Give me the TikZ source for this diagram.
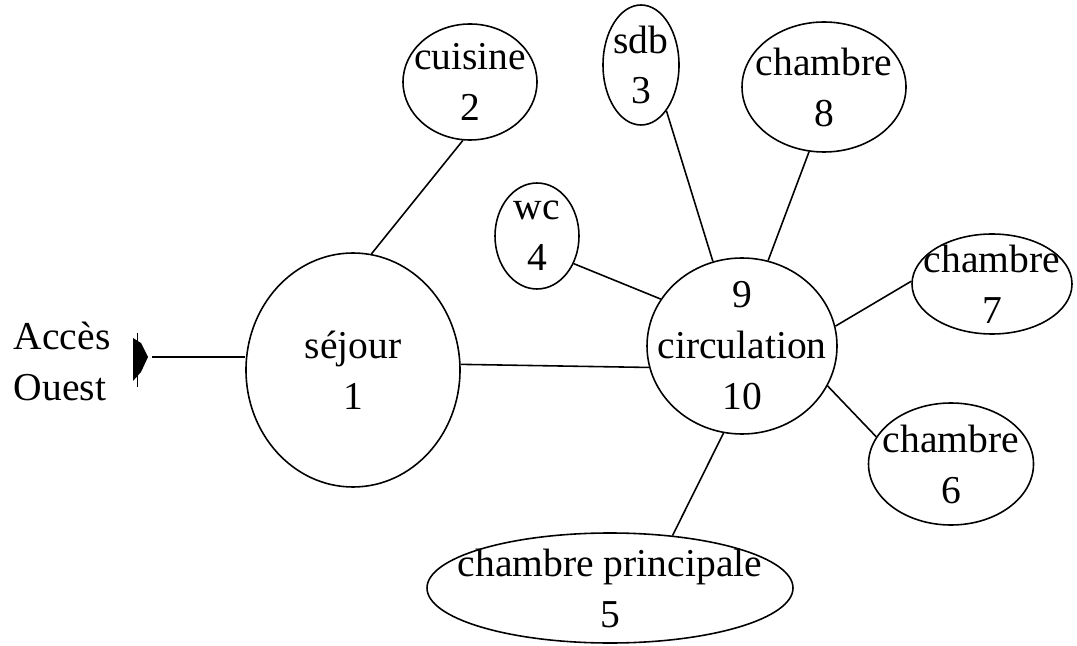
\documentclass[tikz,border=0pt]{standalone}
\usepackage{fontspec}
\setmainfont{Liberation Serif}
\usetikzlibrary{shapes.geometric}

\begin{document}
\begin{tikzpicture}[line width=0.9pt,
    piece/.style={draw, ellipse, inner sep=0pt},
    txt/.style={align=center, inner sep=0pt, font=\fontsize{22.5}{29}\selectfont}]
    \useasboundingbox (0,0) rectangle (21.54,12.9);
    \node[piece, minimum width=4.28cm, minimum height=4.68cm, label={[txt]center:séjour\\1}] (s) at (7.06, 5.50) {};
    \node[piece, minimum width=2.68cm, minimum height=2.32cm, label={[txt]center:cuisine\\2}] (c) at (9.40, 11.26) {};
    \node[piece, minimum width=1.52cm, minimum height=2.40cm, label={[txt]center:sdb\\3}] (b) at (12.82, 11.60) {};
    \node[piece, minimum width=1.68cm, minimum height=2.12cm, label={[txt]center:wc\\4}] (w) at (10.74, 8.18) {};
    \node[piece, minimum width=7.32cm, minimum height=2.20cm, label={[txt]center:chambre principale\\5}] (p) at (12.20, 1.14) {};
    \node[piece, minimum width=3.30cm, minimum height=2.44cm, label={[txt]center:chambre\\6}] (ch6) at (19.02, 3.62) {};
    \node[piece, minimum width=3.20cm, minimum height=2.00cm, label={[txt]center:chambre\\7}] (ch7) at (19.84, 7.22) {};
    \node[piece, minimum width=3.28cm, minimum height=2.60cm, label={[txt]center:chambre\\8}] (ch8) at (16.48, 11.16) {};
    \node[piece, minimum width=3.80cm, minimum height=3.52cm, label={[txt]center:9\\circulation\\10}] (r) at (14.84, 5.98) {};
    \node[txt, align=left, anchor=west] (acc) at (0.26, 5.68) {Accès\\Ouest};
    % entree
    \coordinate (e) at (3.04, 5.76);
    \fill (e) ++(-0.38,0.38) -- ++(0.16,-0.10) -- ++(0.14,-0.28) -- ++(-0.14,-0.30) -- ++(-0.16,-0.18) -- cycle;
    \draw[line width=0.5pt] (e) ++(-0.30,0.48) -- ++(0,-1.08);
    \draw (e) to (e -| s.west);
    % liaisons
    \draw (c.-97) to (s.81);
    \draw (s.3) to (r.193);
    \draw (b.-61) to (r.109);
    \draw (ch8.-103) to (r.73);
    \draw (w.-37) to (r.150);
    \draw (ch7.178) to (r.12);
    \draw (ch6.160) to (r.-25);
    \draw (p.40) to (r.-102);
\end{tikzpicture}
\end{document}
